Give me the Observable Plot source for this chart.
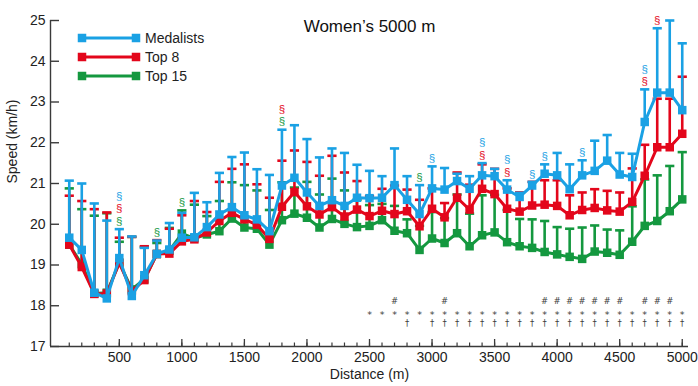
<!DOCTYPE html>
<html>
<head>
<meta charset="utf-8">
<script src="https://cdn.jsdelivr.net/npm/d3@7"></script>
<script src="https://cdn.jsdelivr.net/npm/@observablehq/plot@0.6"></script>
<style>
  body { margin: 0; background: #fff; }
  #chart { position: relative; width: 698px; height: 386px; font-family: "Liberation Sans", Arial, sans-serif; }
  #legend { position: absolute; left: 0; top: 0; pointer-events: none; }
</style>
</head>
<body>
<div id="chart"></div>
<script>
// Split points (m)
const distances = [100, 200, 300, 400, 500, 600, 700, 800, 900, 1000,
  1100, 1200, 1300, 1400, 1500, 1600, 1700, 1800, 1900, 2000,
  2100, 2200, 2300, 2400, 2500, 2600, 2700, 2800, 2900, 3000,
  3100, 3200, 3300, 3400, 3500, 3600, 3700, 3800, 3900, 4000,
  4100, 4200, 4300, 4400, 4500, 4600, 4700, 4800, 4900, 5000];

// Mean speed (km/h) and upper error value for each group
const medalistsMean = [19.67, 19.37, 18.32, 18.18, 19.17, 18.24, 18.75, 19.27, 19.38, 19.67,
  19.68, 19.93, 20.24, 20.42, 20.22, 20.12, 19.83, 20.95, 21.14, 20.78,
  20.45, 20.59, 20.45, 20.65, 20.64, 20.65, 20.96, 20.60, 20.25, 20.88,
  20.85, 21.06, 20.87, 21.20, 21.18, 20.85, 20.67, 20.95, 21.24, 21.20,
  20.86, 21.20, 21.31, 21.56, 21.22, 21.16, 22.51, 23.23, 23.23, 22.80];
const medalistsUpper = [21.07, 21.00, 20.51, 20.09, 19.88, 19.70, 19.42, 19.60, 20.03, 20.28,
  20.77, 20.54, 21.26, 21.65, 21.76, 21.35, 21.21, 22.32, 22.43, 22.09,
  21.64, 21.86, 21.75, 21.46, 21.31, 21.18, 21.86, 21.18, 20.96, 21.42,
  21.38, 21.24, 21.18, 21.50, 21.36, 21.08, 20.77, 21.04, 21.47, 21.75,
  21.47, 21.57, 22.05, 22.19, 21.75, 21.73, 23.31, 24.81, 25.00, 24.44];

const top8Mean = [19.50, 18.95, 18.29, 18.30, 19.05, 18.36, 18.63, 19.27, 19.28, 19.58,
  19.63, 19.80, 20.08, 20.28, 20.12, 19.99, 19.64, 20.43, 20.79, 20.44,
  20.24, 20.42, 20.19, 20.36, 20.20, 20.33, 20.25, 20.32, 19.95, 20.38,
  20.17, 20.65, 20.36, 20.87, 20.74, 20.38, 20.31, 20.46, 20.48, 20.45,
  20.22, 20.35, 20.40, 20.34, 20.31, 20.55, 21.19, 21.89, 21.89, 22.22];
const top8Upper = [20.70, 20.57, 20.37, 20.29, 19.67, 19.69, 19.46, 19.61, 19.89, 20.22,
  20.57, 20.30, 21.04, 21.36, 21.47, 20.98, 20.65, 21.56, 21.81, 21.53,
  21.19, 21.68, 21.27, 21.06, 20.69, 20.87, 20.95, 20.85, 20.60, 20.88,
  20.52, 21.27, 20.97, 21.47, 21.36, 20.88, 20.78, 21.04, 21.08, 21.08,
  20.71, 20.78, 20.86, 20.82, 20.78, 21.37, 21.95, 23.08, 23.08, 23.62];

const top15Mean = [19.50, 19.02, 18.30, 18.32, 19.06, 18.40, 18.65, 19.27, 19.35, 19.77,
  19.66, 19.75, 19.83, 20.14, 19.92, 19.89, 19.50, 20.10, 20.26, 20.16,
  19.92, 20.13, 20.01, 19.93, 19.96, 20.10, 19.84, 19.78, 19.37, 19.65,
  19.54, 19.78, 19.46, 19.73, 19.80, 19.56, 19.46, 19.42, 19.32, 19.26,
  19.20, 19.15, 19.33, 19.30, 19.25, 19.57, 19.96, 20.08, 20.32, 20.61];
const top15Upper = [20.88, 20.37, 20.21, 20.27, 19.57, 19.69, 19.44, 19.54, 19.91, 20.34,
  20.48, 20.20, 20.57, 21.03, 20.96, 20.83, 20.35, 21.03, 20.90, 21.04,
  20.73, 21.12, 20.83, 20.60, 20.47, 20.50, 20.45, 20.12, 19.96, 20.30,
  20.15, 20.73, 20.26, 20.71, 20.72, 20.35, 20.13, 20.12, 20.08, 19.93,
  19.89, 19.92, 19.97, 19.87, 19.85, 20.44, 21.10, 21.20, 21.43, 21.77];

// Groups, drawn bottom to top in reverse order
const seriesNames = ["Medalists", "Top 8", "Top 15"];
const seriesColors = ["#1aa1e4", "#e3061b", "#14983f"];
const seriesMeans = [medalistsMean, top8Mean, top15Mean];
const seriesUppers = [medalistsUpper, top8Upper, top15Upper];

// Significance markers (§) above the bars, per group
const sectionMarks = [
  [500, 3000, 3400, 3600, 3800, 3900, 4200, 4700],
  [500, 1800, 3400, 3600, 4700, 4800],
  [500, 800, 1000, 1800, 2900]
];

// Rows of symbols along the bottom
const hashMarks = [2700, 3100, 3900, 4000, 4100, 4200, 4300, 4400, 4500, 4700, 4800, 4900];
const starMarks = [2500, 2600, 2700, 2800, 2900, 3000, 3100, 3200, 3300, 3400, 3500, 3600, 3700,
  3800, 3900, 4000, 4100, 4200, 4300, 4400, 4500, 4600, 4700, 4800, 4900, 5000];
const daggerMarks = [2800, 3000, 3100, 3200, 3300, 3400, 3500, 3600, 3700, 3800, 3900, 4000,
  4100, 4200, 4300, 4400, 4500, 4600, 4700, 4800, 4900, 5000];

// Axes
const xTicksMajor = [500, 1000, 1500, 2000, 2500, 3000, 3500, 4000, 4500, 5000];
const xTicksMinor = distances;
const yTicks = [17, 18, 19, 20, 21, 22, 23, 24, 25];
const xDomain = [-50, 5050];
const yDomain = [17, 25];

const W = 698, H = 386;
const margin = {top: 20, right: 10, bottom: 40, left: 50};
const frameW = W - margin.left - margin.right;
const frameH = H - margin.top - margin.bottom;
const axisColor = "#3a3a3a";
const symbolColor = "#3c3c3c";

const rows = seriesNames.map((name, s) =>
  distances.map((d, i) => ({series: name, distance: d, mean: seriesMeans[s][i], upper: seriesUppers[s][i]}))
);

// Horizontal cap symbol for the error bars
const capSymbol = {
  draw(context, size) {
    const r = Math.sqrt(size / Math.PI);
    context.moveTo(-r, 0);
    context.lineTo(r, 0);
  }
};

// Stack the § markers above the highest bar at each split
const topAt = new Map(distances.map((d, i) => [d, Math.max(...seriesUppers.map(u => u[i]))]));
const sectRows = [];
d3.union(...sectionMarks).forEach(d => {
  const present = seriesNames.map((_, s) => s).filter(s => sectionMarks[s].includes(d));
  present.forEach((s, k) => {
    sectRows.push({distance: d, top: topAt.get(d), series: s, level: present.length - 1 - k});
  });
});

const seriesMarks = [];
for (let s = seriesNames.length - 1; s >= 0; s--) {
  const color = seriesColors[s];
  const data = rows[s];
  seriesMarks.push(
    Plot.ruleX(data, {x: "distance", y1: "mean", y2: "upper", stroke: color, strokeWidth: 2.6}),
    Plot.dot(data, {x: "distance", y: "upper", symbol: capSymbol, r: 4.6, stroke: color, strokeWidth: 2.6, fill: "none"}),
    Plot.line(data, {x: "distance", y: "mean", stroke: color, strokeWidth: 3}),
    Plot.dot(data, {x: "distance", y: "mean", symbol: "square", r: 4.8, fill: color, stroke: "none"})
  );
}

const sectMarksLayers = [0, 1, 2].map(level =>
  Plot.text(sectRows.filter(r => r.level === level), {
    x: "distance", y: "top", text: () => "§",
    fill: r => seriesColors[r.series], dy: -8 - 12.5 * level, fontSize: 11.5
  })
);

const symbolFont = "'DejaVu Sans', 'Liberation Sans', sans-serif";

const chart = Plot.plot({
  width: W,
  height: H,
  marginTop: margin.top,
  marginRight: margin.right,
  marginBottom: margin.bottom,
  marginLeft: margin.left,
  style: {fontFamily: "'Liberation Sans', Arial, sans-serif", fontSize: "14px", color: "#222", background: "#fff"},
  x: {domain: xDomain},
  y: {domain: yDomain},
  marks: [
    // axis lines
    Plot.ruleX([xDomain[0]], {stroke: axisColor, strokeWidth: 1.4}),
    Plot.ruleY([yDomain[0]], {stroke: axisColor, strokeWidth: 1.4}),
    // inward ticks
    Plot.tickY(yTicks, {y: d => d, stroke: axisColor, strokeWidth: 1.4, insetRight: frameW - 9}),
    Plot.tickX(xTicksMinor, {x: d => d, stroke: axisColor, strokeWidth: 1.2, insetTop: frameH - 3.5}),
    Plot.tickX(xTicksMajor, {x: d => d, stroke: axisColor, strokeWidth: 1.3, insetTop: frameH - 7}),
    // tick labels
    Plot.axisY({ticks: yTicks, tickFormat: d => String(d), tickSize: 0, tickPadding: 5, label: null, fontSize: 14, fill: "#222"}),
    Plot.axisX({ticks: xTicksMajor, tickFormat: d => String(d), tickSize: 0, tickPadding: 6, label: null, fontSize: 14, fill: "#222"}),
    // titles
    Plot.text(["Women’s 5000 m"], {text: d => d, frameAnchor: "top", dy: -1, fontSize: 17, fill: "#111"}),
    Plot.text(["Distance (m)"], {text: d => d, frameAnchor: "bottom", dy: 32, fontSize: 14, fill: "#222"}),
    Plot.text(["Speed (km/h)"], {text: d => d, frameAnchor: "left", rotate: -90, dx: -38, fontSize: 14, fill: "#222"}),
    // data
    ...seriesMarks,
    ...sectMarksLayers,
    // bottom symbol rows
    Plot.text(hashMarks, {x: d => d, text: () => "#", frameAnchor: "bottom", dy: -43, fontSize: 8.5, fontFamily: symbolFont, fill: symbolColor}),
    Plot.text(starMarks, {x: d => d, text: () => "*", frameAnchor: "bottom", dy: -29, fontSize: 9.5, fontFamily: symbolFont, fill: symbolColor}),
    Plot.text(daggerMarks, {x: d => d, text: () => "†", frameAnchor: "bottom", dy: -20.5, fontSize: 8.5, fontFamily: symbolFont, fill: symbolColor})
  ]
});

const container = document.getElementById("chart");
container.appendChild(chart);

// Legend in the upper left of the plot area
const legend = d3.select(container).append("svg")
  .attr("id", "legend").attr("width", 260).attr("height", 100);
const legendItems = legend.selectAll("g").data(seriesNames).join("g")
  .attr("transform", (d, i) => `translate(0, ${38 + 19 * i})`);
legendItems.append("line")
  .attr("x1", 82).attr("x2", 136).attr("y1", 0).attr("y2", 0)
  .attr("stroke", (d, i) => seriesColors[i]).attr("stroke-width", 3);
legendItems.selectAll("rect").data((d, i) => [82, 136].map(x => ({x, c: seriesColors[i]}))).join("rect")
  .attr("x", p => p.x - 4.25).attr("y", -4.25).attr("width", 8.5).attr("height", 8.5)
  .attr("fill", p => p.c);
legendItems.append("text")
  .attr("x", 145).attr("y", 0).attr("dy", "0.35em")
  .attr("font-family", "'Liberation Sans', Arial, sans-serif").attr("font-size", 14).attr("fill", "#222")
  .text(d => d);
</script>
</body>
</html>
